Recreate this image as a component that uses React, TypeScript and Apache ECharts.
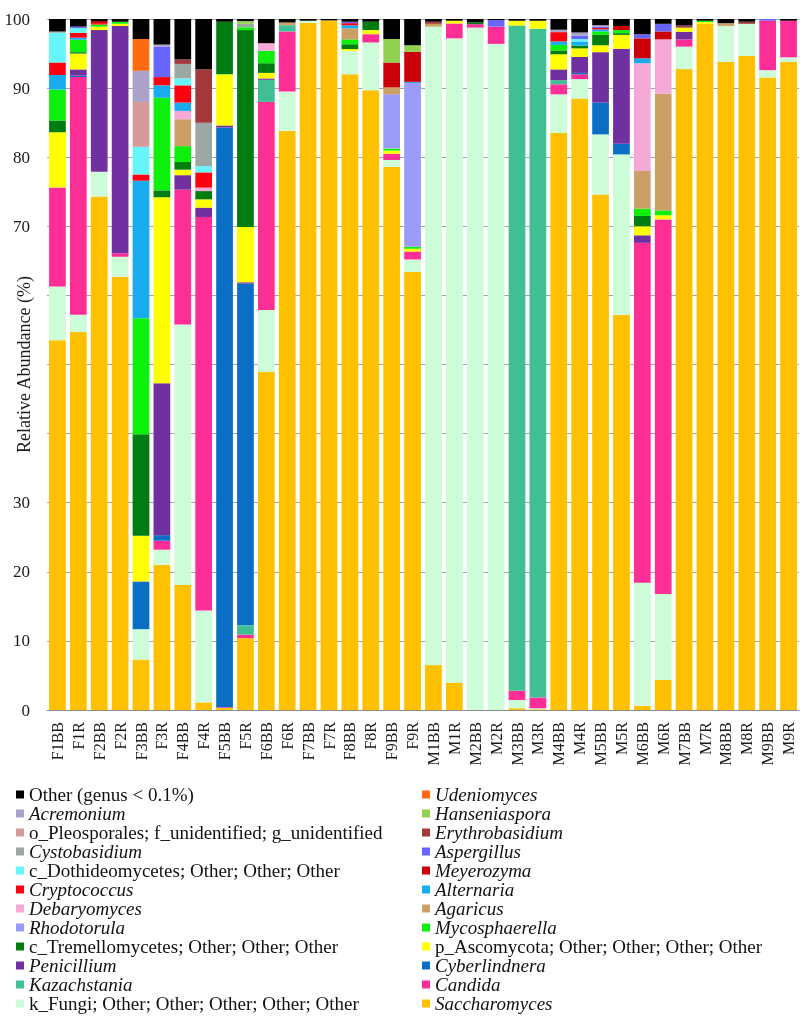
import React, { useEffect, useRef } from "react";
import * as echarts from "echarts";

const categories = ["F1BB","F1R","F2BB","F2R","F3BB","F3R","F4BB","F4R","F5BB","F5R","F6BB","F6R","F7BB","F7R","F8BB","F8R","F9BB","F9R","M1BB","M1R","M2BB","M2R","M3BB","M3R","M4BB","M4R","M5BB","M5R","M6BB","M6R","M7BB","M7R","M8BB","M8R","M9BB","M9R"];

const yTicks = [0, 10, 20, 30, 40, 50, 60, 70, 80, 90, 100];
const hiddenTicks = [40, 50, 60];

// stacked from bottom to top
const saccharomyces = [53.5,54.7,74.3,62.7,7.3,21.0, 18.1,1.1,0.3,10.4,48.95,83.8, 99.45,99.8,92.0,89.7,78.6,63.4, 6.5,3.95,0,0,0.25,0.1, 83.5,88.5,74.6,57.2,0.6,4.35, 92.75,99.3,93.8,94.65,91.55,93.8];
const kFungi = [7.8,2.5,3.6,2.9,4.4,2.2, 37.7,13.3,0,0,8.95,5.7, 0.3,0,3.4,6.9,1.0,1.8, 92.4,93.25,98.75,96.4,1.2,0.15, 5.6,2.8,8.7,23.2,17.8,12.45, 3.25,0,5.2,4.65,1.05,0.65];
const candida = [14.3,34.4,0,0.5,0,1.3, 19.5,56.95,0.1,0.5,30.1,8.7, 0,0,0,1.2,0.9,1.15, 0,2.15,0.5,2.5,1.35,1.55, 1.45,0.7,0,0,49.2,54.2, 1.05,0,0,0,7.15,5.3];
const kazachstania = [0,0,0,0,0,0, 0,0,0,1.35,3.2,0.9, 0,0,0,0,0,0, 0,0,0,0,96.25,96.8, 0.6,0,0,0,0,0, 0,0,0,0,0,0];
const cyberlindnera = [0,0.2,0,0,6.9,0.8, 0,0,83.9,49.45,0,0, 0,0,0,0,0,0, 0,0,0,0,0,0, 0,0.2,4.6,1.55,0,0, 0,0,0,0,0,0];
const penicillium = [0,0.9,20.5,32.9,0,22.0, 2.1,1.35,0.3,0.2,0.2,0, 0,0,0,0,0,0, 0,0,0,0,0,0, 1.55,2.3,7.3,13.75,1.1,0, 1.1,0,0,0,0,0];
const pAscomycota = [8.0,2.3,0.5,0.3,6.6,26.9, 0.8,1.2,7.4,8.0,0.8,0, 0,0,0.25,0.6,0.45,0.4, 0,0.4,0,0,0.7,1.15, 2.2,1.25,1.0,2.0,1.3,0.6, 0.6,0.25,0,0,0,0];
const cTremellomycetes = [1.7,0.2,0,0,14.7,1.0, 1.1,1.2,7.6,28.5,1.4,0, 0,0,0.7,1.2,0,0, 0,0,0.25,0,0,0, 0.55,0.4,1.5,0.25,1.5,0, 0,0,0,0,0,0];
const mycosphaerella = [4.5,1.8,0.3,0.3,16.8,13.4, 2.3,0,0,0.4,1.8,0, 0,0,0.7,0,0.3,0.3, 0,0,0,0,0,0, 0.8,0,0.5,0.45,1.05,0.7, 0,0.2,0,0,0,0];
const rhodotorula = [0,0,0,0,0,0, 0,0,0,0,0,0, 0,0,0,0,7.85,23.7, 0,0,0,0,0,0, 0,0,0,0,0,0, 0,0,0,0,0,0];
const agaricus = [0,0,0,0,0,0, 3.9,0,0,0,0,0.4, 0,0,1.6,0,1.0,0, 0.4,0,0,0,0,0, 0,0,0,0,5.45,16.9, 0,0,0.4,0,0,0];
const debaryomyces = [0,0,0,0,0,0, 1.2,0.5,0,0,1.1,0, 0,0,0,0,0,0, 0,0,0,0,0,0, 0,0,0,0,15.6,7.85, 0,0,0,0,0,0];
const alternaria = [2.1,0.3,0,0,19.9,1.8, 1.2,0,0,0,0,0, 0,0,0.45,0,0,0.15, 0,0,0,0,0,0, 0.5,0.6,0.3,0,0.7,0, 0,0,0,0,0,0];
const cryptococcus = [1.8,0.7,0.2,0,0.9,1.2, 2.5,2.2,0,0,0,0, 0,0,0.3,0,0,0, 0,0,0,0,0,0, 1.35,0,0.2,0,0,0, 0,0,0,0,0,0];
const meyerozyma = [0,0,0.3,0,0,0, 0,0,0,0,0,0, 0,0,0,0,3.6,4.35, 0,0,0,0,0,0, 0,0,0,0.6,2.9,1.15, 0,0,0,0,0,0];
const cDothideomycetes = [4.3,0.7,0,0,4.0,0, 1.0,0.9,0,0,0,0, 0,0,0,0,0,0, 0,0,0,0,0,0, 0,0.35,0,0,0,0, 0,0,0,0,0,0];
const aspergillus = [0,0.2,0,0,0,4.4, 0,0,0,0,0,0, 0,0,0.2,0,0,0, 0,0,0,0.95,0,0, 0,0.5,0.2,0,0.6,1.1, 0,0,0,0,0.25,0];
const cystobasidium = [0.2,0,0,0,0,0, 2.1,6.3,0,0.5,0,0, 0,0,0,0,0,0, 0,0,0,0,0,0, 0,0,0,0,0,0, 0,0,0,0,0,0];
const erythrobasidium = [0,0,0,0,0,0, 0.65,7.7,0,0,0,0, 0,0,0,0,0,0, 0.3,0,0,0,0,0, 0,0,0,0,0,0, 0.3,0,0,0.3,0,0];
const oPleosporales = [0,0,0,0,6.5,0, 0,0,0,0,0,0, 0,0,0,0,0,0, 0,0,0,0,0,0, 0,0,0,0,0,0, 0,0,0,0,0,0];
const hanseniaspora = [0,0,0,0,0,0, 0,0,0,0.4,0,0, 0,0,0,0,3.4,0.95, 0,0,0,0,0,0, 0,0,0,0,0,0, 0,0,0,0,0,0];
const acremonium = [0,0,0,0,4.5,0.3, 0,0,0,0,0,0, 0,0,0,0,0,0, 0,0,0,0,0,0, 0.35,0.45,0.2,0,0,0, 0,0,0,0,0,0];
const udeniomyces = [0,0,0,0,4.6,0, 0,0,0,0,0,0, 0,0,0,0,0,0, 0,0,0,0,0,0, 0,0,0,0,0,0, 0,0,0,0,0,0];
const other = [1.8,1.1,0.3,0.4,2.9,3.7, 5.85,7.3,0.4,0.3,3.5,0.5, 0.25,0.2,0.4,0.4,2.9,3.8, 0.4,0.25,0.5,0.15,0.25,0.25, 1.55,1.95,0.9,1.0,2.2,0.7, 0.95,0.25,0.6,0.4,0,0.25];

const seriesDefs = [
  { name: "Saccharomyces", data: saccharomyces, color: "#ffc000", italic: true },
  { name: "k_Fungi; Other; Other; Other; Other; Other", data: kFungi, color: "#ccfcd8", italic: false },
  { name: "Candida", data: candida, color: "#ff2d96", italic: true },
  { name: "Kazachstania", data: kazachstania, color: "#3fbf93", italic: true },
  { name: "Cyberlindnera", data: cyberlindnera, color: "#0a6ec4", italic: true },
  { name: "Penicillium", data: penicillium, color: "#7030a0", italic: true },
  { name: "p_Ascomycota; Other; Other; Other; Other", data: pAscomycota, color: "#ffff00", italic: false },
  { name: "c_Tremellomycetes; Other; Other; Other", data: cTremellomycetes, color: "#007d10", italic: false },
  { name: "Mycosphaerella", data: mycosphaerella, color: "#0cf00c", italic: true },
  { name: "Rhodotorula", data: rhodotorula, color: "#9c9cf8", italic: true },
  { name: "Agaricus", data: agaricus, color: "#cc9f66", italic: true },
  { name: "Debaryomyces", data: debaryomyces, color: "#f5a9d6", italic: true },
  { name: "Alternaria", data: alternaria, color: "#18acee", italic: true },
  { name: "Cryptococcus", data: cryptococcus, color: "#ff0010", italic: true },
  { name: "Meyerozyma", data: meyerozyma, color: "#cc0008", italic: true },
  { name: "c_Dothideomycetes; Other; Other; Other", data: cDothideomycetes, color: "#66f6fa", italic: false },
  { name: "Aspergillus", data: aspergillus, color: "#6666ff", italic: true },
  { name: "Cystobasidium", data: cystobasidium, color: "#9ca8a4", italic: true },
  { name: "Erythrobasidium", data: erythrobasidium, color: "#a33a3a", italic: true },
  { name: "o_Pleosporales; f_unidentified; g_unidentified", data: oPleosporales, color: "#d59a9a", italic: false },
  { name: "Hanseniaspora", data: hanseniaspora, color: "#92d050", italic: true },
  { name: "Acremonium", data: acremonium, color: "#aaa2c8", italic: true },
  { name: "Udeniomyces", data: udeniomyces, color: "#ff6a10", italic: true },
  { name: "Other (genus < 0.1%)", data: other, color: "#000000", italic: false },
];

const legendLeft = [
  "Other (genus < 0.1%)", "Acremonium", "o_Pleosporales; f_unidentified; g_unidentified", "Cystobasidium",
  "c_Dothideomycetes; Other; Other; Other", "Cryptococcus", "Debaryomyces", "Rhodotorula",
  "c_Tremellomycetes; Other; Other; Other", "Penicillium", "Kazachstania", "k_Fungi; Other; Other; Other; Other; Other",
];
const legendRight = [
  "Udeniomyces", "Hanseniaspora", "Erythrobasidium", "Aspergillus", "Meyerozyma", "Alternaria",
  "Agaricus", "Mycosphaerella", "p_Ascomycota; Other; Other; Other; Other", "Cyberlindnera", "Candida", "Saccharomyces",
];

const FONT = "Liberation Serif";

export default function App() {
  const ref = useRef<HTMLDivElement>(null);
  useEffect(() => {
    if (!ref.current) return;
    const chart = echarts.init(ref.current, null, { renderer: "svg" });
    const italicSet = new Set(seriesDefs.filter((s) => s.italic).map((s) => s.name));
    const legendText = {
      fontFamily: FONT,
      fontSize: 19,
      color: "#111",
      rich: {
        i: { fontFamily: FONT, fontSize: 19, fontStyle: "italic", color: "#111", lineHeight: 20 },
        n: { fontFamily: FONT, fontSize: 19, color: "#111", lineHeight: 20 },
      },
    };
    const fmt = (name: string) => (italicSet.has(name) ? `{i|${name}}` : `{n|${name}}`);
    const mkLegend = (data: string[], left: number) => ({
      orient: "vertical",
      left,
      top: 780,
      itemWidth: 8,
      itemHeight: 8,
      itemGap: 0,
      icon: "rect",
      selectedMode: false,
      data,
      formatter: fmt,
      textStyle: legendText,
    });
    chart.setOption({
      animation: false,
      grid: { left: 47, right: 1, top: 19, bottom: 311 },
      legend: [mkLegend(legendLeft, 11), mkLegend(legendRight, 417)],
      xAxis: {
        type: "category",
        data: categories,
        axisTick: { show: false },
        axisLine: { lineStyle: { color: "#8c8c8c", width: 1 } },
        axisLabel: { rotate: 90, interval: 0, fontSize: 16, fontFamily: FONT, color: "#1a1a1a", margin: 12 },
      },
      yAxis: {
        type: "value",
        min: yTicks[0],
        max: yTicks[yTicks.length - 1],
        interval: 10,
        name: "Relative Abundance (%)",
        nameLocation: "middle",
        nameGap: 14,
        nameMoveOverlap: false,
        nameTextStyle: { fontFamily: FONT, fontSize: 18, color: "#1a1a1a" },
        axisLine: { show: false },
        axisTick: { show: false },
        axisLabel: {
          fontSize: 17,
          fontFamily: FONT,
          color: "#1a1a1a",
          margin: 17,
          formatter: (v: number) => (hiddenTicks.includes(v) ? "" : String(v)),
        },
        splitLine: { lineStyle: { color: "#a6a6a6", width: 1 } },
      },
      series: seriesDefs.map((s) => ({
        name: s.name,
        type: "bar",
        stack: "total",
        barCategoryGap: "20%",
        data: s.data,
        itemStyle: { color: s.color },
        emphasis: { disabled: true },
      })),
    });
    return () => chart.dispose();
  }, []);
  return <div ref={ref} style={{ position: "fixed", left: 0, top: 0, width: 800, height: 1021 }} />;
}
